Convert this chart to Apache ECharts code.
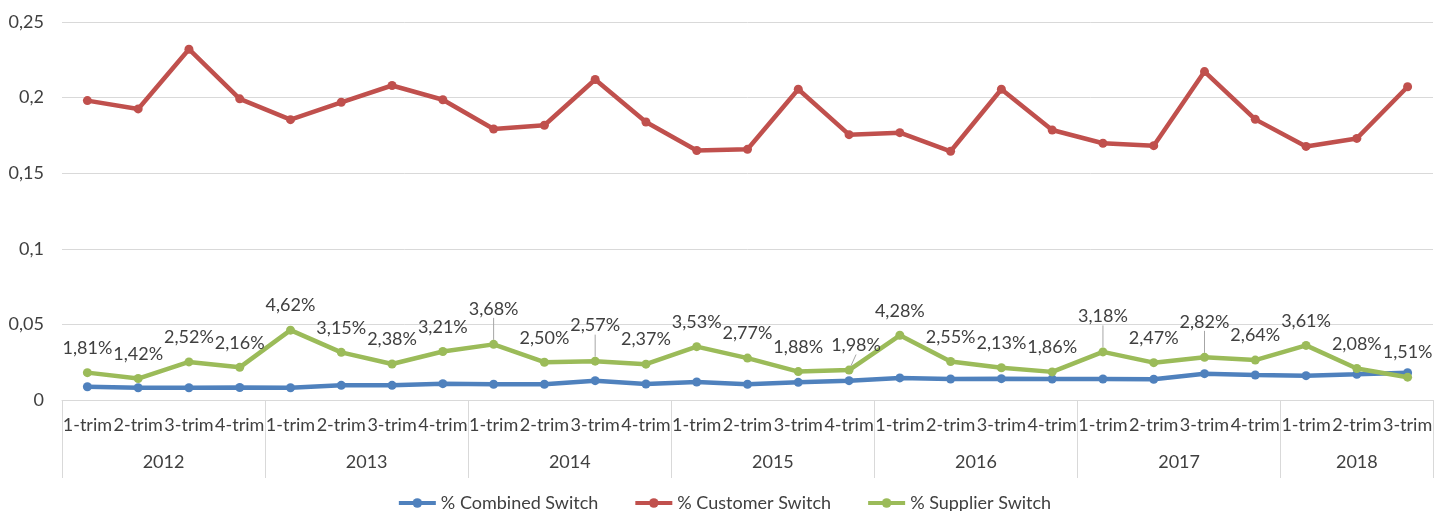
<!DOCTYPE html>
<html>
<head>
<meta charset="utf-8">
<style>
  html, body { margin: 0; padding: 0; background: #ffffff; }
  #chart { width: 1448px; height: 511px; }
</style>
<script src="https://cdn.jsdelivr.net/npm/echarts@6/dist/echarts.min.js"></script>
</head>
<body>
<div id="chart"></div>
<script>
// ---- data ----
const years = ['2012', '2013', '2014', '2015', '2016', '2017', '2018'];
const trimsPerYear = [4, 4, 4, 4, 4, 4, 3];
const trimLabels = ['1-trim', '2-trim', '3-trim', '4-trim'];
const yTicks = [0, 0.05, 0.1, 0.15, 0.2, 0.25];

const combinedSwitch = [
  0.0088, 0.0081, 0.0081, 0.0083, 0.0081, 0.0097, 0.0097, 0.0108, 0.0104,
  0.0104, 0.0128, 0.0106, 0.0119, 0.0104, 0.0117, 0.0128, 0.0146, 0.0139,
  0.0141, 0.0139, 0.0139, 0.0137, 0.0174, 0.0165, 0.0161, 0.0170, 0.0180
];
const customerSwitch = [
  0.1980, 0.1925, 0.2320, 0.1992, 0.1854, 0.1969, 0.2080, 0.1986, 0.1792,
  0.1817, 0.2120, 0.1839, 0.1650, 0.1658, 0.2055, 0.1755, 0.1768, 0.1645,
  0.2055, 0.1786, 0.1698, 0.1682, 0.2172, 0.1856, 0.1677, 0.1730, 0.2072
];
const supplierSwitch = [
  0.0181, 0.0142, 0.0252, 0.0216, 0.0462, 0.0315, 0.0238, 0.0321, 0.0368,
  0.0250, 0.0257, 0.0237, 0.0353, 0.0277, 0.0188, 0.0198, 0.0428, 0.0255,
  0.0213, 0.0186, 0.0318, 0.0247, 0.0282, 0.0264, 0.0361, 0.0208, 0.0151
];
// labels that Excel moved further up (with leader line)
const raisedLabels = [8, 10, 20, 22];
const shiftedLabels = [15];

// ---- derived axis data ----
const categories = [];
trimsPerYear.forEach(n => { for (let i = 0; i < n; i++) categories.push(trimLabels[i]); });
const total = categories.length;
const yearSlots = new Array(total * 2 + 1).fill('');
const boundarySlots = new Set();
let start = 0;
years.forEach((y, i) => {
  boundarySlots.add(start * 2);
  yearSlots[start * 2 + trimsPerYear[i]] = y;
  start += trimsPerYear[i];
});
boundarySlots.add(start * 2);

const FONT = 'Lato';
const TXT = '#404040';
const GRID = '#d9d9d9';

const chart = echarts.init(document.getElementById('chart'), null, { renderer: 'canvas' });

function pct(v) { return (v * 100).toFixed(2).replace('.', ',') + '%'; }

const supplierData = supplierSwitch.map((v, i) => {
  const item = { value: v };
  if (raisedLabels.includes(i) || shiftedLabels.includes(i)) {
    item.labelLine = { show: true, lineStyle: { color: '#a6a6a6', width: 1 } };
  }
  return item;
});

chart.setOption({
  animation: false,
  backgroundColor: '#ffffff',
  textStyle: { fontFamily: FONT },
  grid: { left: 62, right: 15, top: 22, bottom: 111, containLabel: false },
  legend: {
    top: 489,
    left: 'center',
    itemWidth: 37,
    itemHeight: 12,
    itemGap: 35,
    lineStyle: { width: 4 },
    textStyle: { color: TXT, fontSize: 18, fontFamily: FONT },
    data: ['% Combined Switch', '% Customer Switch', '% Supplier Switch']
  },
  xAxis: [
    {
      type: 'category',
      data: categories,
      boundaryGap: true,
      axisLine: { show: true, lineStyle: { color: GRID, width: 1 } },
      axisTick: { show: false },
      axisLabel: { interval: 0, margin: 16, color: TXT, fontSize: 18, fontFamily: FONT }
    },
    {
      type: 'category',
      data: yearSlots,
      boundaryGap: false,
      position: 'bottom',
      axisLine: { show: false },
      axisTick: {
        show: true,
        length: 78,
        interval: (idx) => boundarySlots.has(idx),
        lineStyle: { color: GRID, width: 1 }
      },
      axisLabel: {
        interval: (idx, val) => val !== '',
        margin: 53,
        color: TXT,
        fontSize: 18,
        fontFamily: FONT
      },
      splitLine: { show: false }
    }
  ],
  yAxis: {
    type: 'value',
    min: yTicks[0],
    max: yTicks[yTicks.length - 1],
    interval: 0.05,
    axisLine: { show: false },
    axisTick: { show: false },
    splitLine: { lineStyle: { color: GRID, width: 1 } },
    axisLabel: {
      margin: 18,
      color: TXT,
      fontSize: 18,
      fontFamily: FONT,
      formatter: v => String(+v.toFixed(2)).replace('.', ',')
    }
  },
  series: [
    {
      name: '% Combined Switch',
      type: 'line',
      data: combinedSwitch,
      symbol: 'circle',
      symbolSize: 9,
      lineStyle: { width: 4.5, color: '#4F81BD' },
      itemStyle: { color: '#4F81BD' },
      z: 3
    },
    {
      name: '% Customer Switch',
      type: 'line',
      data: customerSwitch,
      symbol: 'circle',
      symbolSize: 9,
      lineStyle: { width: 4.5, color: '#C0504D' },
      itemStyle: { color: '#C0504D' },
      z: 3
    },
    {
      name: '% Supplier Switch',
      type: 'line',
      data: supplierData,
      symbol: 'circle',
      symbolSize: 9,
      lineStyle: { width: 4.5, color: '#9BBB59' },
      itemStyle: { color: '#9BBB59' },
      z: 4,
      label: {
        show: true,
        position: 'top',
        distance: 11,
        color: TXT,
        fontSize: 18,
        fontFamily: FONT,
        formatter: p => pct(p.value)
      },
      labelLayout: (params) => {
        if (raisedLabels.includes(params.dataIndex)) return { dy: -11 };
        if (shiftedLabels.includes(params.dataIndex)) return { dx: 7 };
        return {};
      }
    }
  ]
});
</script>
</body>
</html>
